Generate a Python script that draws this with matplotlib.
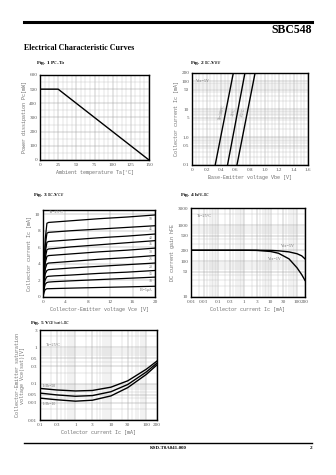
import numpy as np
import matplotlib
matplotlib.use('Agg')
import matplotlib.pyplot as plt
from matplotlib.lines import Line2D
from matplotlib.ticker import FixedLocator, NullFormatter, MultipleLocator

# ---- data ----
# Fig 1  Pc - Ta
ta = [0, 25, 150]
pc = [500, 500, 0]

# Fig 2  Ic - Vbe (three temperatures, straight lines on log axis)
vbe_hot = [0.32, 0.57]
vbe_room = [0.49, 0.73]
vbe_cold = [0.62, 0.87]
ic_vbe = [0.1, 200]
vbe_labels = ['Ta=100\u00b0C', '25\u00b0C', '-25\u00b0C']

# Fig 3  Ic - Vce
vce = [0, 0.2, 0.4, 0.7, 1.0, 2, 5, 10, 15, 20]
ic_curves = [
    [0, 3.5, 7.0, 8.9, 9.0, 9.05, 9.2, 9.45, 9.65, 9.9],
    [0, 3.2, 6.2, 7.7, 7.8, 7.85, 8.0, 8.2, 8.4, 8.6],
    [0, 2.9, 5.4, 6.6, 6.7, 6.75, 6.9, 7.15, 7.35, 7.6],
    [0, 2.6, 4.7, 5.7, 5.8, 5.85, 6.05, 6.3, 6.55, 6.8],
    [0, 2.3, 4.1, 4.9, 5.0, 5.05, 5.2, 5.45, 5.65, 5.9],
    [0, 2.0, 3.4, 4.0, 4.1, 4.15, 4.3, 4.55, 4.75, 5.0],
    [0, 1.7, 2.8, 3.2, 3.3, 3.35, 3.5, 3.7, 3.9, 4.1],
    [0, 1.4, 2.1, 2.45, 2.5, 2.55, 2.65, 2.85, 3.0, 3.2],
    [0, 1.0, 1.55, 1.75, 1.8, 1.85, 1.95, 2.1, 2.25, 2.4],
    [0, 0.6, 0.9, 1.0, 1.0, 1.02, 1.07, 1.15, 1.22, 1.3],
]
ib_labels = ['50', '45', '40', '35', '30', '25', '20', '15', '10', 'IB=5\u03bcA']

# Fig 4  hFE - Ic
ic_h = [0.01, 0.1, 1, 3, 10, 20, 50, 100, 150, 200]
hfe_5v = [200, 200, 200, 200, 198, 193, 180, 160, 140, 115]
hfe_1v = [200, 200, 200, 198, 185, 165, 115, 65, 42, 29]

# Fig 5  Vce(sat) - Ic
ic_s = [0.1, 0.3, 1, 3, 10, 30, 100, 200]
sat_50 = [0.074, 0.067, 0.063, 0.065, 0.08, 0.12, 0.25, 0.42]
sat_20 = [0.055, 0.049, 0.045, 0.047, 0.06, 0.095, 0.21, 0.37]
sat_10 = [0.040, 0.036, 0.033, 0.035, 0.046, 0.078, 0.18, 0.33]

W, H = 336, 475
fig = plt.figure(figsize=(W / 100, H / 100), dpi=100)
fig.patch.set_facecolor('white')

SERIF = 'Liberation Serif'
MONO = 'Liberation Mono'
GRAY = '#6e6e6e'


def ax_px(l, t, r, b):
    return fig.add_axes([l / W, 1 - b / H, (r - l) / W, (b - t) / H])


def ftext(x, y, s, **kw):
    fig.text(x / W, 1 - y / H, s, **kw)


def style(ax):
    for sp in ax.spines.values():
        sp.set_linewidth(1.0)
    ax.tick_params(which='both', length=0, pad=2, labelsize=3.7, labelcolor='#555555')
    for lab in ax.get_xticklabels() + ax.get_yticklabels():
        lab.set_fontfamily(SERIF)
    ax.grid(which='major', color='#9a9a9a', lw=0.35)
    ax.grid(which='minor', color='#b8b8b8', lw=0.25)
    ax.set_axisbelow(True)


def labels(ax, xl, yl):
    ax.set_xlabel(xl, fontsize=3.6, color=GRAY, family=MONO, labelpad=2)
    ax.set_ylabel(yl, fontsize=3.6, color=GRAY, family=MONO, labelpad=2)


# header
fig.add_artist(Line2D([24 / W, 312 / W], [1 - 22 / H] * 2, lw=2.2, color='k'))
ftext(312, 30, 'SBC548', ha='right', va='center', fontsize=8.5, weight='bold', family=SERIF)
ftext(24, 48, 'Electrical Characteristic Curves', ha='left', va='center',
      fontsize=5.8, weight='bold', family=SERIF)

# footer
fig.add_artist(Line2D([24 / W, 312 / W], [1 - 443 / H] * 2, lw=1.0, color='k'))
ftext(150, 448, 'KSD-T0A041-000', ha='left', va='center', fontsize=3.5, weight='bold', family=SERIF)
ftext(312, 448, '2', ha='right', va='center', fontsize=3.8, weight='bold', family=SERIF)

# titles
ftext(36, 63, 'Fig. 1 P$_C$-T$_a$', fontsize=3.9, weight='bold', family=SERIF, va='center')
ftext(190, 63, 'Fig. 2 I$_C$-V$_{BE}$', fontsize=3.9, weight='bold', family=SERIF, va='center')
ftext(33, 195, 'Fig. 3 I$_C$-V$_{CE}$', fontsize=3.9, weight='bold', family=SERIF, va='center')
ftext(180, 195, 'Fig. 4 h$_{FE}$-I$_C$', fontsize=3.9, weight='bold', family=SERIF, va='center')
ftext(30, 323, 'Fig. 5 V$_{CE(sat)}$-I$_C$', fontsize=3.9, weight='bold', family=SERIF, va='center')

# ---- Fig 1 ----
ax1 = ax_px(40, 75, 149, 160)
ax1.plot(ta, pc, color='k', lw=1.0)
ax1.set_xlim(0, 150)
ax1.set_ylim(0, 600)
ax1.set_xticks([0, 25, 50, 75, 100, 125, 150])
ax1.set_yticks([0, 100, 200, 300, 400, 500, 600])
ax1.xaxis.set_minor_locator(MultipleLocator(6.25))
ax1.yaxis.set_minor_locator(MultipleLocator(50))
style(ax1)
labels(ax1, 'Ambient temperature Ta[\u00b0C]', 'Power dissipation Pc[mW]')

# ---- Fig 2 ----
ax2 = ax_px(192, 73, 308, 165)
for v in (vbe_hot, vbe_room, vbe_cold):
    ax2.plot(v, ic_vbe, color='k', lw=1.0)
ax2.set_yscale('log')
ax2.set_xlim(0, 1.6)
ax2.set_ylim(0.1, 200)
ax2.set_xticks(np.arange(0, 1.61, 0.2))
ax2.set_xticklabels(['0', '0.2', '0.4', '0.6', '0.8', '1.0', '1.2', '1.4', '1.6'])
ax2.xaxis.set_minor_locator(MultipleLocator(0.05))
ax2.yaxis.set_major_locator(FixedLocator([0.1, 0.5, 1, 5, 10, 50, 100, 200]))
ax2.set_yticklabels(['0.1', '0.5', '1.0', '5', '10', '50', '100', '200'])
ax2.yaxis.set_minor_formatter(NullFormatter())
style(ax2)
labels(ax2, 'Base-Emitter voltage Vbe [V]', 'Collector current Ic [mA]')
ax2.text(0.03, 0.93, 'Vce=5V', transform=ax2.transAxes, fontsize=3.0, color=GRAY,
         family=SERIF, va='top')
for xv, s in zip([0.42, 0.58, 0.71], vbe_labels):
    ax2.text(xv, 8, s, rotation=75, fontsize=2.8, color=GRAY, family=SERIF,
             ha='center', va='center')

# ---- Fig 3 ----
ax3 = ax_px(43, 210, 155, 297)
for c, s in zip(ic_curves, ib_labels):
    ax3.plot(vce, c, color='k', lw=0.9)
    ax3.text(19.6, c[-1] - 0.45, s, fontsize=2.8, color=GRAY, family=SERIF,
             ha='right', va='center')
ax3.set_xlim(0, 20)
ax3.set_ylim(0, 10.5)
ax3.set_xticks([0, 4, 8, 12, 16, 20])
ax3.set_yticks([0, 2, 4, 6, 8, 10])
style(ax3)
labels(ax3, 'Collector-Emitter voltage Vce [V]', 'Collector current Ic [mA]')
ax3.text(1.0, 10.2, 'Ta=25\u00b0C', fontsize=3.0, color=GRAY, family=SERIF, va='center')

# ---- Fig 4 ----
ax4 = ax_px(191, 208, 305, 297)
ax4.plot(ic_h, hfe_5v, color='k', lw=1.0)
ax4.plot(ic_h, hfe_1v, color='k', lw=1.0)
ax4.set_xscale('log')
ax4.set_yscale('log')
ax4.set_xlim(0.01, 200)
ax4.set_ylim(10, 3000)
ax4.xaxis.set_major_locator(FixedLocator([0.01, 0.03, 0.1, 0.3, 1, 3, 10, 30, 100, 200]))
ax4.set_xticklabels(['0.01', '0.03', '0.1', '0.3', '1', '3', '10', '30', '100', '200'])
ax4.yaxis.set_major_locator(FixedLocator([10, 50, 100, 200, 500, 1000, 3000]))
ax4.set_yticklabels(['10', '50', '100', '200', '500', '1000', '3000'])
ax4.xaxis.set_minor_formatter(NullFormatter())
ax4.yaxis.set_minor_formatter(NullFormatter())
style(ax4)
labels(ax4, 'Collector current Ic [mA]', 'DC current gain hFE')
ax4.text(0.05, 0.93, 'Ta=25\u00b0C', transform=ax4.transAxes, fontsize=3.0, color=GRAY,
         family=SERIF, va='top')
ax4.text(25, 260, 'Vce=5V', fontsize=3.0, color=GRAY, family=SERIF, va='center')
ax4.text(8, 115, 'Vce=1V', fontsize=3.0, color=GRAY, family=SERIF, va='center')

# ---- Fig 5 ----
ax5 = ax_px(40, 330, 157, 420)
for s in (sat_50, sat_20, sat_10):
    ax5.plot(ic_s, s, color='k', lw=1.0)
ax5.set_xscale('log')
ax5.set_yscale('log')
ax5.set_xlim(0.1, 200)
ax5.set_ylim(0.01, 3)
ax5.xaxis.set_major_locator(FixedLocator([0.1, 0.3, 1, 3, 10, 30, 100, 200]))
ax5.set_xticklabels(['0.1', '0.3', '1', '3', '10', '30', '100', '200'])
ax5.yaxis.set_major_locator(FixedLocator([0.01, 0.03, 0.05, 0.1, 0.3, 0.5, 1, 3]))
ax5.set_yticklabels(['0.01', '0.03', '0.05', '0.1', '0.3', '0.5', '1', '3'])
ax5.xaxis.set_minor_formatter(NullFormatter())
ax5.yaxis.set_minor_formatter(NullFormatter())
style(ax5)
labels(ax5, 'Collector current Ic [mA]',
       'Collector-Emitter saturation\nvoltage Vce(sat)[V]')
ax5.text(0.05, 0.85, 'Ta=25\u00b0C', transform=ax5.transAxes, fontsize=3.0, color=GRAY,
         family=SERIF, va='top')
ax5.text(0.12, 0.088, 'Ic/Ib=50', fontsize=2.8, color=GRAY, family=SERIF, va='center')
ax5.text(0.12, 0.028, 'Ic/Ib=10', fontsize=2.8, color=GRAY, family=SERIF, va='center')

fig.savefig('out.png', dpi=100)
